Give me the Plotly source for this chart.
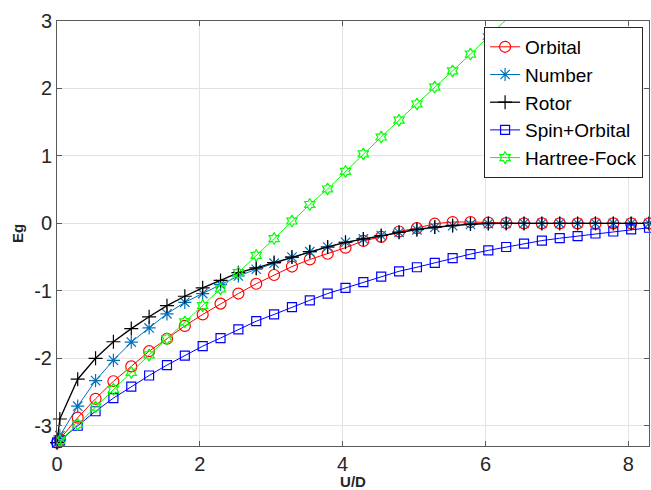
import plotly.graph_objects as go

# U/D values (shared)
ud = [0, 0.04, 0.29, 0.54, 0.79, 1.04, 1.29, 1.54, 1.79, 2.04, 2.29, 2.54, 2.79,
      3.04, 3.29, 3.54, 3.79, 4.04, 4.29, 4.54, 4.79, 5.04, 5.29, 5.54, 5.79,
      6.04, 6.29, 6.54, 6.79, 7.04, 7.29, 7.54, 7.79, 8.04, 8.29]

orbital = [-3.25, -3.2, -2.88, -2.60, -2.34, -2.12, -1.895, -1.71, -1.52, -1.35,
           -1.19, -1.04, -0.895, -0.765, -0.64, -0.535, -0.45, -0.36, -0.26, -0.20,
           -0.12, -0.07, -0.005, 0.02, 0.02, 0.01, 0.005, 0, 0, 0, 0, 0, 0, 0, 0]

number = [-3.25, -3.15, -2.71, -2.33, -2.03, -1.76, -1.55, -1.34, -1.17, -1.04,
          -0.905, -0.78, -0.68, -0.59, -0.50, -0.42, -0.35, -0.28, -0.23, -0.18,
          -0.135, -0.095, -0.06, -0.035, -0.015, -0.005, 0, 0, 0, 0, 0, 0, 0, 0, 0]

rotor = [-3.25, -2.9, -2.31, -2.00, -1.755, -1.56, -1.385, -1.22, -1.08, -0.955,
         -0.846, -0.73, -0.66, -0.58, -0.50, -0.42, -0.35, -0.28, -0.23, -0.18,
         -0.13, -0.09, -0.055, -0.03, -0.01, 0, 0, 0, 0, 0, 0, 0, 0, 0, 0]

spin_orbital = [-3.25, -3.22, -3.00, -2.785, -2.59, -2.42, -2.255, -2.10, -1.96,
                -1.82, -1.70, -1.57, -1.45, -1.35, -1.24, -1.14, -1.04, -0.955,
                -0.87, -0.79, -0.71, -0.65, -0.585, -0.515, -0.455, -0.40, -0.35,
                -0.30, -0.255, -0.22, -0.19, -0.15, -0.12, -0.09, -0.065]

hartree_fock = [-3.25, -3.22, -2.98, -2.72, -2.46, -2.21, -1.95, -1.71, -1.46,
                -1.22, -0.97, -0.73, -0.475, -0.225, 0.035, 0.28, 0.51, 0.77, 1.03,
                1.28, 1.53, 1.77, 2.02, 2.26, 2.51, 2.77, 3.02]

x_ticks = [0, 2, 4, 6, 8]
y_ticks = [-3, -2, -1, 0, 1, 2, 3]

fig = go.Figure()

series = [
    ("Orbital", orbital, "#ff0000", "circle-open", 11, 1.0, False),
    ("Number", number, "#0072bd", "asterisk-open", 11, 1.0, False),
    ("Rotor", rotor, "#000000", "cross-thin-open", 10, 1.3, False),
    ("Spin+Orbital", spin_orbital, "#0000ff", "square-open", 9, 1.0, False),
    ("Hartree-Fock", hartree_fock, "#00ff00", "hexagram-open", 9, 1.0, True),
]

for name, ys, col, sym, size, lw, clip in series:
    fig.add_trace(go.Scatter(
        x=ud[:len(ys)], y=ys, name=name, mode="lines+markers",
        line=dict(color=col, width=lw),
        marker=dict(symbol=sym, size=size, color=col, line=dict(color=col, width=1.2)),
        cliponaxis=clip,
    ))

axis_common = dict(
    showgrid=True, gridcolor="#e3e3e3", gridwidth=1,
    showline=True, linecolor="#5a5a5a", linewidth=1, mirror="ticks",
    ticks="inside", ticklen=5, tickcolor="#5a5a5a",
    zeroline=False,
    tickfont=dict(family="Liberation Sans, Arial, sans-serif", size=20, color="#262626"),
)

fig.update_layout(
    width=651, height=490,
    margin=dict(l=57, r=2, t=21, b=44),
    paper_bgcolor="white", plot_bgcolor="white",
    showlegend=True,
    legend=dict(
        x=0.99, y=0.986, xanchor="right", yanchor="top",
        bgcolor="white", bordercolor="#262626", borderwidth=1,
        font=dict(family="Liberation Sans, Arial, sans-serif", size=19, color="#000000"),
        tracegroupgap=0, itemwidth=30,
    ),
    xaxis=dict(
        range=[0, 8.29], tickvals=x_ticks, ticktext=[str(v) for v in x_ticks],
        title=dict(text="<b>U/D</b>", standoff=2,
                   font=dict(family="Liberation Sans, Arial, sans-serif", size=15, color="#262626")),
        **axis_common,
    ),
    yaxis=dict(
        range=[-3.3, 3], tickvals=y_ticks, ticktext=[str(v) for v in y_ticks],
        title=dict(text="<b>Eg</b>", standoff=6,
                   font=dict(family="Liberation Sans, Arial, sans-serif", size=15, color="#262626")),
        **axis_common,
    ),
)

fig.write_html("out.html")
